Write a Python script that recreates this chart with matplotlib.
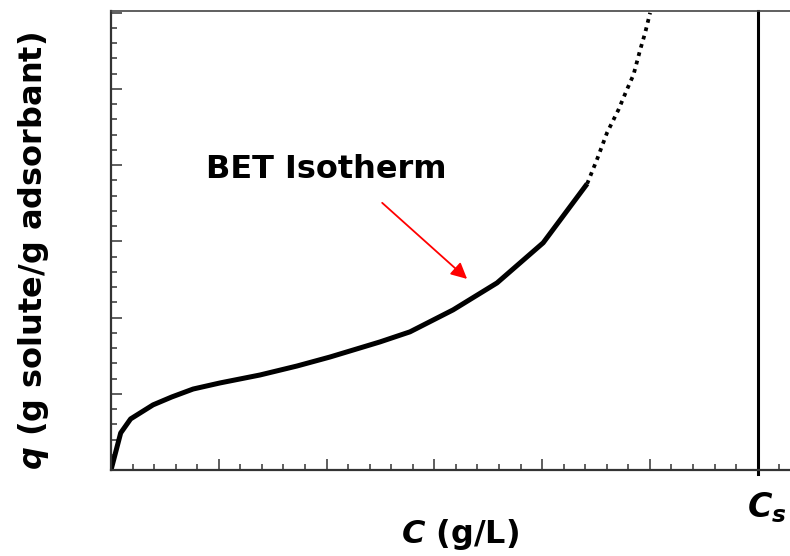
# BET 等温线示意图
import matplotlib.pyplot as plt
from matplotlib.ticker import MultipleLocator, NullFormatter

plt.rcParams["font.family"] = "DejaVu Sans"
plt.rcParams["mathtext.fontset"] = "custom"
plt.rcParams["mathtext.it"] = "DejaVu Sans:italic:bold"
plt.rcParams["mathtext.rm"] = "DejaVu Sans:bold"

# 曲线数据（实线部分）
c_solid = [0, 0.45, 0.91, 1.95, 2.82, 3.81, 5.06, 6.91, 8.63, 10.16,
           12.48, 13.87, 15.87, 17.91, 20.05, 22.09]
q_solid = [0, 2.43, 3.35, 4.27, 4.79, 5.31, 5.71, 6.23, 6.82, 7.41,
           8.40, 9.06, 10.50, 12.27, 14.90, 18.77]

# 虚线部分（外推）
c_dot = [22.09, 22.54, 23.01, 23.54, 23.93, 24.24, 24.55, 24.78, 25.01]
q_dot = [18.77, 20.34, 22.11, 23.62, 24.93, 25.92, 27.56, 28.67, 29.98]

c_sat = 30  # Cs
arrow_tail = (12.58, 17.52)
arrow_tip = (16.52, 12.53)

fig = plt.figure(figsize=(7.9, 5.56), dpi=100)
ax = fig.add_axes([111 / 790, 1 - 470 / 556, 679 / 790, 459 / 556])

ax.plot(c_solid, q_solid, color="black", lw=3.6, solid_capstyle="butt")
ax.plot(c_dot, q_dot, color="black", lw=2.7, linestyle=(0, (1, 1.3)),
        dash_capstyle="butt")

ax.axvline(c_sat, ymin=-0.008, ymax=1, color="black", lw=2.2, clip_on=False)

ax.annotate("", xy=arrow_tip, xytext=arrow_tail,
            arrowprops=dict(arrowstyle="-|>", color="red", lw=1.3,
                            mutation_scale=24, shrinkA=0, shrinkB=0))
ax.text(9.98, 19.16, "BET Isotherm", fontsize=23, fontweight="bold",
        ha="center", va="baseline")

ax.set_xlim(0, 31.5)
ax.set_ylim(0, 30.1)
ax.xaxis.set_major_locator(MultipleLocator(5))
ax.xaxis.set_minor_locator(MultipleLocator(1))
ax.yaxis.set_major_locator(MultipleLocator(5))
ax.yaxis.set_minor_locator(MultipleLocator(1))
ax.xaxis.set_major_formatter(NullFormatter())
ax.yaxis.set_major_formatter(NullFormatter())
ax.tick_params(which="both", direction="in", width=1.1, color="#333333",
               top=False, right=False)
ax.tick_params(which="major", length=8)
ax.tick_params(which="minor", length=4)

ax.spines["right"].set_visible(False)
ax.spines["left"].set_linewidth(1.6)
ax.spines["left"].set_color("#333333")
ax.spines["bottom"].set_linewidth(1.6)
ax.spines["bottom"].set_color("#333333")
ax.spines["top"].set_linewidth(1.2)
ax.spines["top"].set_color("#444444")

fig.text(34 / 790, 1 - 251 / 556, r"$q$ (g solute/g adsorbant)", fontsize=23,
         fontweight="bold", rotation=90, ha="center", va="center")
fig.text(460 / 790, 1 - 543 / 556, r"$C$ (g/L)", fontsize=23,
         fontweight="bold", ha="center", va="baseline")
fig.text(747 / 790, 1 - 517 / 556, r"$C_s$", fontsize=24,
         ha="left", va="baseline")

fig.savefig("out.png", dpi=100)
